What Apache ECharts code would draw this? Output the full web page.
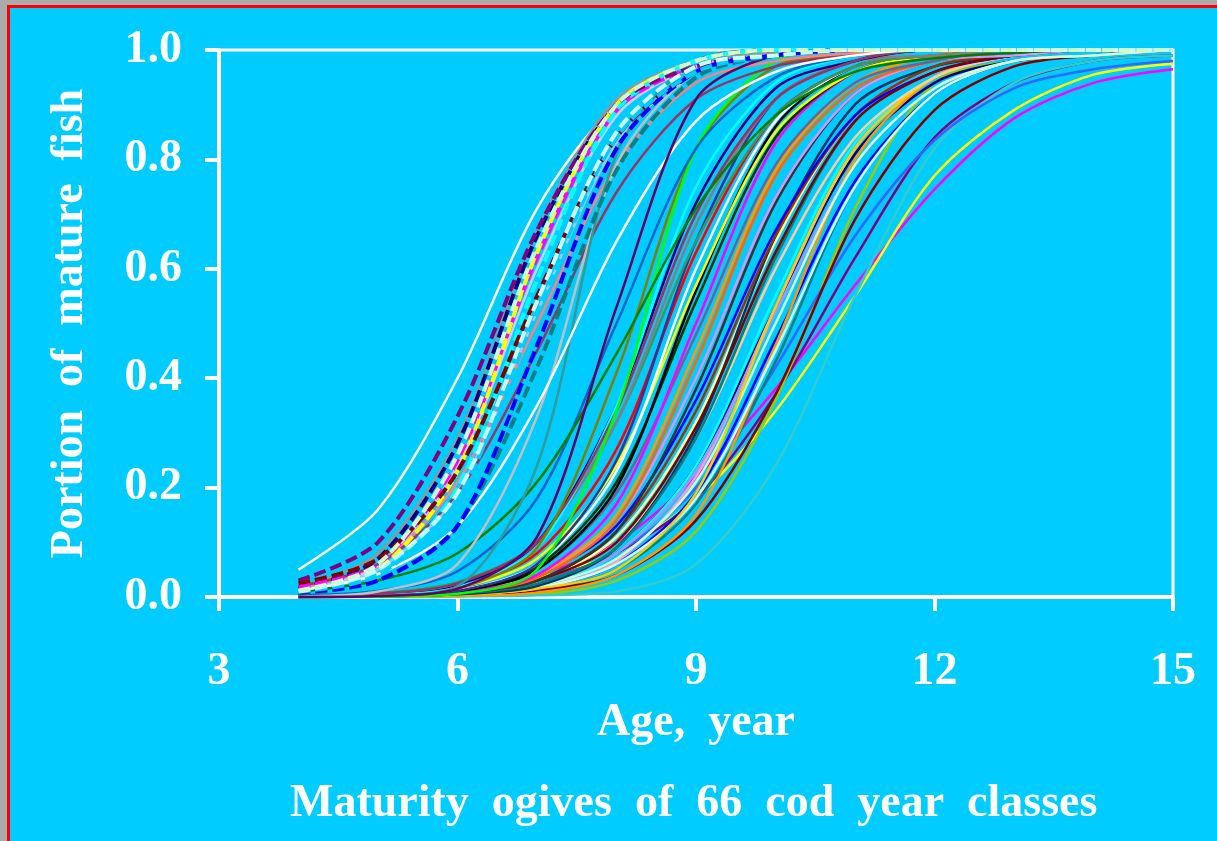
<!DOCTYPE html>
<html><head><meta charset="utf-8">
<script src="https://cdn.jsdelivr.net/npm/echarts@6/dist/echarts.min.js"></script>
<style>
html,body{margin:0;padding:0;width:1217px;height:841px;overflow:hidden;background:#ababab;}
#frame{position:absolute;left:7px;top:5px;width:1210px;height:836px;box-sizing:border-box;border-left:3px solid #ff0000;border-top:3px solid #ff0000;background:#00ccff;}
#chart{position:absolute;left:0;top:0;width:1217px;height:841px;}
</style></head><body><div id="frame"></div><div id="chart"></div>
<script>
// Ages (x categories)
const ages = [4,5,6,7,8,9,10,11,12,13,14,15];
const xTickValues = [3,6,9,12,15];
const yTickValues = [0,0.2,0.4,0.6,0.8,1.0];
const xAxisTitle = 'Age,  year';
const yAxisTitle = 'Portion  of  mature  fish';
const captionText = 'Maturity  ogives  of  66  cod  year  classes';

// Late-maturing year classes (right group)
const lateOgives = [
  [0,0.005,0.015,0.04,0.10,0.22,0.38,0.57,0.745,0.875,0.94,0.965],
  [0,0.005,0.015,0.035,0.08,0.18,0.34,0.55,0.77,0.89,0.955,0.975],
  [0,0.003,0.01,0.03,0.08,0.18,0.37,0.62,0.84,0.94,0.98,0.99],
  [0,0,0.002,0.005,0.03,0.12,0.36,0.71,0.94,0.98,0.99,1],
  [0,0,0.001,0.003,0.01,0.06,0.24,0.55,0.82,0.94,0.98,0.99],
  [0,0.002,0.008,0.03,0.08,0.20,0.42,0.66,0.835,0.93,0.965,0.98],
  [0,0.001,0.005,0.017,0.06,0.19,0.47,0.76,0.92,0.98,0.99,1],
  [0,0.002,0.006,0.023,0.08,0.24,0.53,0.81,0.94,0.98,0.99,1],
  [0,0.001,0.004,0.013,0.05,0.17,0.43,0.75,0.92,0.98,0.99,1],
  [0,0.002,0.006,0.02,0.08,0.24,0.55,0.83,0.95,0.99,1,1],
  [0,0.001,0.004,0.012,0.04,0.14,0.37,0.69,0.89,0.97,0.99,1],
  [0,0.001,0.005,0.017,0.065,0.22,0.53,0.82,0.95,0.99,1,1],
  [0,0,0.002,0.008,0.04,0.15,0.46,0.80,0.95,0.99,1,1],
  [0,0.001,0.005,0.016,0.06,0.18,0.45,0.75,0.92,0.98,0.99,1],
  [0.001,0.002,0.009,0.03,0.11,0.32,0.65,0.88,0.96,0.99,1,1],
  [0,0.002,0.007,0.024,0.08,0.23,0.52,0.79,0.93,0.98,0.99,1],
  [0,0.002,0.006,0.02,0.07,0.21,0.50,0.79,0.93,0.98,0.99,1]
];
const lateColors = ['#FF00FF','#FFFF00','#800080','#99CC00','#33CCCC','#3366FF','#0000FF','#000080','#008080','#00FFFF','#800000','#FF99CC','#FF9900','#CCFFFF','#FFFF99','#9999FF','#CCFFCC'];

// Middle year classes
const middleOgives = [
  [0,0.001,0.004,0.015,0.05,0.19,0.53,0.82,0.95,0.99,1,1],
  [0,0.002,0.008,0.03,0.10,0.29,0.60,0.84,0.95,0.99,1,1],
  [0,0.001,0.005,0.02,0.09,0.30,0.66,0.90,0.97,0.99,1,1],
  [0,0.001,0.006,0.024,0.09,0.29,0.62,0.87,0.96,0.99,1,1],
  [0,0.002,0.009,0.03,0.12,0.34,0.66,0.88,0.97,0.99,1,1],
  [0.001,0.003,0.011,0.04,0.13,0.36,0.67,0.88,0.96,0.99,1,1],
  [0,0.002,0.008,0.03,0.10,0.31,0.63,0.87,0.96,0.99,1,1],
  [0,0.002,0.008,0.03,0.12,0.38,0.72,0.92,0.98,0.99,1,1],
  [0,0.003,0.01,0.04,0.14,0.40,0.73,0.92,0.98,0.99,1,1],
  [0,0.002,0.008,0.035,0.14,0.43,0.77,0.93,0.98,1,1,1],
  [0,0.002,0.009,0.04,0.15,0.45,0.78,0.94,0.99,1,1,1],
  [0.001,0.003,0.014,0.05,0.19,0.48,0.79,0.94,0.98,1,1,1],
  [0,0.002,0.008,0.04,0.17,0.50,0.83,0.96,0.99,1,1,1],
  [0,0.003,0.013,0.055,0.21,0.54,0.84,0.96,0.99,1,1,1],
  [0,0.002,0.01,0.05,0.20,0.56,0.86,0.97,0.99,1,1,1],
  [0.001,0.004,0.017,0.07,0.24,0.57,0.85,0.96,0.99,1,1,1],
  [0,0.002,0.012,0.06,0.23,0.60,0.87,0.97,0.99,1,1,1],
  [0.001,0.004,0.02,0.08,0.27,0.63,0.88,0.97,0.99,1,1,1],
  [0,0.002,0.011,0.06,0.25,0.65,0.91,0.98,1,1,1,1],
  [0.002,0.007,0.027,0.10,0.32,0.65,0.88,0.97,0.99,1,1,1],
  [0.001,0.005,0.023,0.10,0.32,0.68,0.91,0.98,0.99,1,1,1],
  [0.001,0.004,0.02,0.10,0.35,0.72,0.93,0.98,1,1,1,1],
  [0,0.003,0.018,0.09,0.35,0.75,0.94,0.99,1,1,1,1],
  [0.001,0.006,0.025,0.10,0.34,0.70,0.91,0.98,1,1,1,1],
  [0,0.002,0.015,0.09,0.41,0.82,0.97,0.99,1,1,1,1],
  [0,0.001,0.006,0.05,0.34,0.82,0.98,1,1,1,1,1],
  [0.003,0.011,0.047,0.18,0.50,0.82,0.95,0.99,1,1,1,1],
  [0.01,0.03,0.08,0.21,0.445,0.71,0.88,0.96,0.985,0.995,1,1]
];
const middleColors = ['#FFCC00','#FFCC99','#003366','#008080','#993300','#0000FF','#800000','#333333','#CC99FF','#FF6600','#FF9900','#666699','#FF00FF','#003300','#000000','#FFFF00','#FFFFFF','#FF0000','#333399','#339966','#808080','#000080','#00FFFF','#993366','#808000','#00FF00','#0066CC','#008000'];

// Early-maturing year classes, solid lines
const earlyOgives = [
  [0.05,0.16,0.40,0.71,0.90,0.97,0.99,1,1,1,1,1],
  [0.017,0.08,0.29,0.67,0.91,0.98,0.995,1,1,1,1,1],
  [0.012,0.057,0.24,0.60,0.88,0.97,0.99,1,1,1,1,1],
  [0.012,0.05,0.19,0.52,0.83,0.96,0.99,1,1,1,1,1],
  [0.017,0.06,0.21,0.50,0.79,0.94,0.98,0.995,1,1,1,1],
  [0.02,0.06,0.19,0.45,0.74,0.91,0.97,0.99,1,1,1,1],
  [0.001,0.01,0.06,0.33,0.79,0.96,0.99,1,1,1,1,1],
  [0,0.002,0.02,0.24,0.81,0.98,1,1,1,1,1,1],
  [0.012,0.042,0.13,0.35,0.65,0.87,0.96,0.99,1,1,1,1],
  [0,0.002,0.015,0.11,0.53,0.91,0.99,1,1,1,1,1]
];
const earlyColors = ['#FFFFCC','#969696','#CCCCFF','#99CCFF','#FF8080','#993366','#C0C0C0','#339999','#FFFFFF','#660066'];

// Most recent year classes, dashed lines
const recentOgives = [
  [0.015,0.07,0.28,0.66,0.90,0.98,1,1,1,1,1,1],
  [0.02,0.06,0.25,0.62,0.89,0.97,0.99,1,1,1,1,1],
  [0.01,0.05,0.23,0.63,0.90,0.98,1,1,1,1,1,1],
  [0.01,0.045,0.20,0.58,0.89,0.98,1,1,1,1,1,1],
  [0.03,0.10,0.33,0.67,0.90,0.97,0.99,1,1,1,1,1],
  [0.025,0.07,0.23,0.55,0.84,0.96,0.99,1,1,1,1,1],
  [0.006,0.03,0.13,0.42,0.78,0.95,0.99,1,1,1,1,1],
  [0.008,0.03,0.13,0.46,0.82,0.96,0.99,1,1,1,1,1],
  [0.01,0.04,0.18,0.52,0.84,0.96,0.99,1,1,1,1,1],
  [0.01,0.05,0.19,0.54,0.85,0.97,0.99,1,1,1,1,1],
  [0.012,0.06,0.26,0.64,0.90,0.98,1,1,1,1,1,1]
];
const recentColors = ['#000080','#FF00FF','#FFFF00','#00FFFF','#800080','#800000','#008080','#0000FF','#00CCFF','#CCFFFF','#CCFFCC'];

const FONT = '"Liberation Serif","Times New Roman",serif';
const textStyle = {color:'#ffffff', fontFamily:FONT, fontWeight:'bold', fontSize:46};

function makeSeries(rows, colors, dashed) {
  return rows.map((vals, i) => ({
    type: 'line',
    data: ages.map((a, j) => [a, vals[j]]),
    showSymbol: false,
    symbol: 'none',
    smooth: 0.3,
    silent: true,
    z: 3,
    lineStyle: {
      color: colors[i],
      width: dashed ? 4 : 2.5,
      type: dashed ? [12, 5] : 'solid'
    }
  }));
}

const series = [].concat(
  makeSeries(lateOgives, lateColors, false),
  makeSeries(middleOgives, middleColors, false),
  makeSeries(earlyOgives, earlyColors, false),
  makeSeries(recentOgives, recentColors, true)
);

const chart = echarts.init(document.getElementById('chart'), null, {renderer:'canvas'});
chart.setOption({
  animation: false,
  backgroundColor: 'transparent',
  title: {
    text: captionText,
    left: 285,
    top: 776,
    textStyle: Object.assign({}, textStyle)
  },
  grid: {
    left: 219, top: 50, width: 954, height: 547,
    show: true, borderColor: '#ffffff', borderWidth: 3, backgroundColor: 'transparent'
  },
  xAxis: {
    type: 'value',
    min: xTickValues[0], max: xTickValues[xTickValues.length-1], interval: 3,
    axisLine: {lineStyle: {color:'#ffffff', width:4}},
    axisTick: {show:true, length:14, lineStyle:{color:'#ffffff', width:4}},
    axisLabel: Object.assign({margin:52, showMinLabel:true, showMaxLabel:true}, textStyle),
    splitLine: {show:false},
    name: xAxisTitle,
    nameLocation: 'middle',
    nameGap: 99,
    nameTextStyle: Object.assign({}, textStyle)
  },
  yAxis: {
    type: 'value',
    min: yTickValues[0], max: yTickValues[yTickValues.length-1], interval: 0.2,
    axisLine: {show:true, lineStyle: {color:'#ffffff', width:4}},
    axisTick: {show:true, length:14, lineStyle:{color:'#ffffff', width:4}},
    axisLabel: Object.assign({margin:37, formatter: v => v.toFixed(1), showMinLabel:true, showMaxLabel:true}, textStyle),
    splitLine: {show:false},
    name: yAxisTitle,
    nameLocation: 'middle',
    nameGap: 126,
    nameTextStyle: Object.assign({}, textStyle)
  },
  series: series
});
</script></body></html>
